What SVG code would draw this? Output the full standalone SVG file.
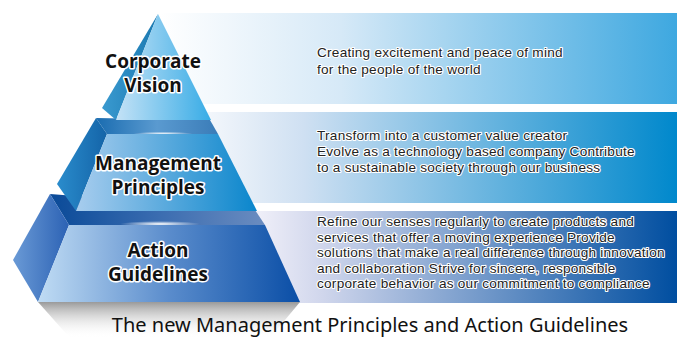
<svg xmlns="http://www.w3.org/2000/svg" width="677" height="338" viewBox="0 0 677 338">
<defs>
<linearGradient id="b1" x1="160" y1="0" x2="677" y2="0" gradientUnits="userSpaceOnUse"><stop offset="0" stop-color="#ffffff"/><stop offset="0.35" stop-color="#d6e9f7"/><stop offset="1" stop-color="#3ea8e0"/></linearGradient>
<linearGradient id="b2" x1="210" y1="0" x2="677" y2="0" gradientUnits="userSpaceOnUse"><stop offset="0" stop-color="#f2f6fb"/><stop offset="0.2" stop-color="#cfe0f2"/><stop offset="1" stop-color="#0088cc"/></linearGradient>
<linearGradient id="b3" x1="260" y1="0" x2="677" y2="0" gradientUnits="userSpaceOnUse"><stop offset="0" stop-color="#eeeef8"/><stop offset="0.15" stop-color="#d0d6ec"/><stop offset="1" stop-color="#004ea0"/></linearGradient>
<linearGradient id="t1f" x1="116" y1="0" x2="211" y2="0" gradientUnits="userSpaceOnUse"><stop offset="0" stop-color="#c4e2f6"/><stop offset="1" stop-color="#38ace6"/></linearGradient>
<linearGradient id="t1l" x1="102" y1="0" x2="158" y2="0" gradientUnits="userSpaceOnUse"><stop offset="0" stop-color="#3a9ad0"/><stop offset="1" stop-color="#1a78b0"/></linearGradient>
<linearGradient id="t2f" x1="76" y1="0" x2="257" y2="0" gradientUnits="userSpaceOnUse"><stop offset="0" stop-color="#a8cdee"/><stop offset="1" stop-color="#0a86cc"/></linearGradient>
<linearGradient id="t2l" x1="57" y1="0" x2="107" y2="0" gradientUnits="userSpaceOnUse"><stop offset="0" stop-color="#2a8ccc"/><stop offset="1" stop-color="#1464a8"/></linearGradient>
<linearGradient id="t2t" x1="96" y1="0" x2="218" y2="0" gradientUnits="userSpaceOnUse"><stop offset="0" stop-color="#1a6cb0"/><stop offset="0.5" stop-color="#5a9ad0"/><stop offset="1" stop-color="#3a7cb8"/></linearGradient>
<linearGradient id="t3f" x1="38" y1="0" x2="300" y2="0" gradientUnits="userSpaceOnUse"><stop offset="0" stop-color="#c0dcf4"/><stop offset="0.5" stop-color="#5a8ccc"/><stop offset="1" stop-color="#0a4ea6"/></linearGradient>
<linearGradient id="t3l" x1="13" y1="0" x2="69" y2="0" gradientUnits="userSpaceOnUse"><stop offset="0" stop-color="#6a9ad6"/><stop offset="1" stop-color="#2c62b4"/></linearGradient>
<linearGradient id="t3t" x1="50" y1="0" x2="265" y2="0" gradientUnits="userSpaceOnUse"><stop offset="0" stop-color="#0a4a98"/><stop offset="0.5" stop-color="#3a6cb0"/><stop offset="1" stop-color="#6a8cc0"/></linearGradient>
<linearGradient id="sh" x1="0" y1="302" x2="0" y2="338" gradientUnits="userSpaceOnUse"><stop offset="0" stop-color="#9a9a9a"/><stop offset="1" stop-color="#ffffff" stop-opacity="0"/></linearGradient>
<radialGradient id="hl" cx="0.5" cy="0.5" r="0.5"><stop offset="0" stop-color="#ffffff"/><stop offset="1" stop-color="#ffffff" stop-opacity="0"/></radialGradient>
</defs>
<style>
.lbl{font-family:"Open Sans","Noto Sans",sans-serif;font-weight:bold;font-size:19px;fill:#111;stroke:#fff;stroke-width:3;paint-order:stroke;stroke-linejoin:round;text-anchor:middle}
.desc{font-family:"Liberation Sans",Arial,sans-serif;font-size:13.6px;letter-spacing:0.25px;fill:#222;stroke:#fff;stroke-width:2.2;paint-order:stroke;stroke-linejoin:round}
.cap{font-family:"Noto Sans","DejaVu Sans",sans-serif;font-size:20px;fill:#111;text-anchor:middle}
</style>
<g id="bands">
<rect x="150" y="13" width="527" height="91" fill="url(#b1)"/>
<rect x="200" y="112" width="477" height="91" fill="url(#b2)"/>
<rect x="250" y="211" width="427" height="92" fill="url(#b3)"/>
</g>
<g id="shadow"><polygon points="38,302 300,302 270,338 70,338" fill="url(#sh)"/></g>
<g id="tier3">
<polygon points="50,194 255,210 265,225 69,225" fill="url(#t3t)"/>
<ellipse cx="160" cy="224" rx="40" ry="3" fill="url(#hl)"/>
<polygon points="50,194 69,225 38,302 13,260" fill="url(#t3l)"/>
<polygon points="69,225 265,225 300,302 38,302" fill="url(#t3f)"/>
<text class="lbl" x="158" y="257">Action<tspan x="158" dy="23.5">Guidelines</tspan></text>
</g>
<g id="tier2">
<polygon points="96,118 210,120 218,134 107,134" fill="url(#t2t)"/>
<ellipse cx="163" cy="134" rx="30" ry="2.5" fill="url(#hl)"/>
<polygon points="96,118 107,134 76,211 57,184" fill="url(#t2l)"/>
<polygon points="107,134 218,134 257,211 76,211" fill="url(#t2f)"/>
<text class="lbl" x="158" y="170">Management<tspan x="158" dy="24">Principles</tspan></text>
</g>
<g id="tier1">
<polygon points="158,14 102,108 116,120" fill="url(#t1l)"/>
<polygon points="158,14 116,120 211,120" fill="url(#t1f)"/>
<text class="lbl" x="153" y="68">Corporate<tspan x="153" dy="24">Vision</tspan></text>
</g>
<g id="texts">
<text class="desc" x="317" y="57">Creating excitement and peace of mind<tspan x="317" dy="16.5">for the people of the world</tspan></text>
<text class="desc" x="317" y="140">Transform into a customer value creator<tspan x="317" dy="16">Evolve as a technology based company Contribute</tspan><tspan x="317" dy="16">to a sustainable society through our business</tspan></text>
<text class="desc" x="317" y="226">Refine our senses regularly to create products and<tspan x="317" dy="15.5">services that offer a moving experience Provide</tspan><tspan x="317" dy="15.5">solutions that make a real difference through innovation</tspan><tspan x="317" dy="15.5">and collaboration Strive for sincere, responsible</tspan><tspan x="317" dy="15.5">corporate behavior as our commitment to compliance</tspan></text>
<text class="cap" x="370" y="332">The new Management Principles and Action Guidelines</text>
</g>
</svg>
